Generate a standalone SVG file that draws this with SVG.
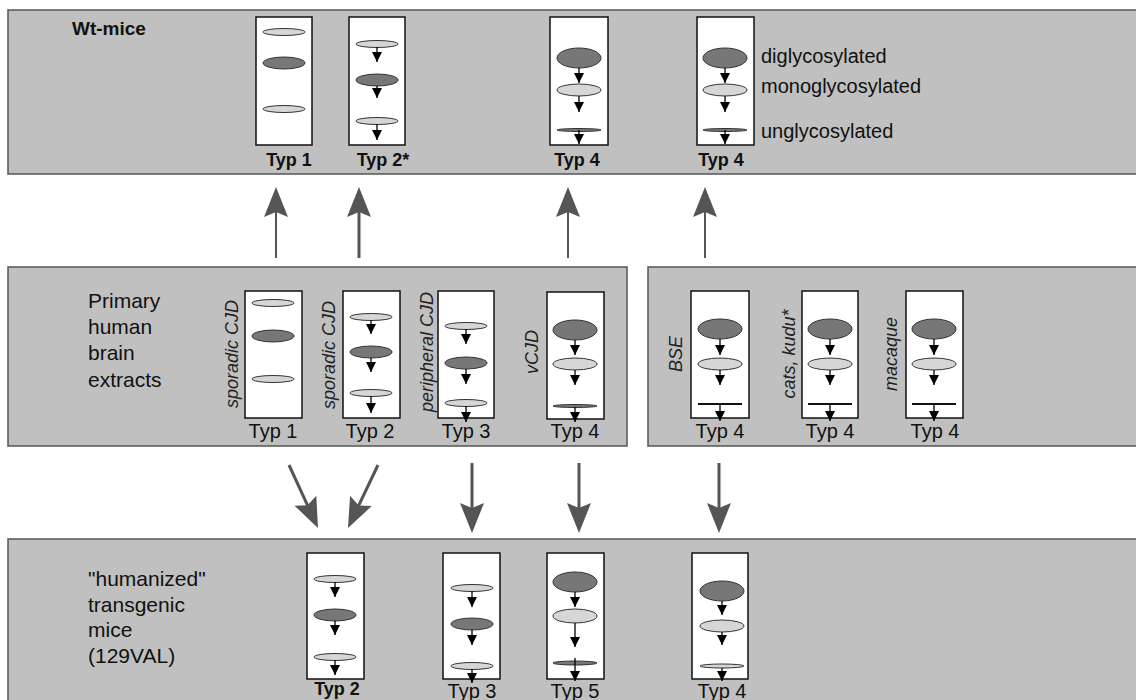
<svg xmlns="http://www.w3.org/2000/svg" width="1136" height="700" viewBox="0 0 1136 700">
<style>
.panel{fill:#c0c0c0;stroke:#555;stroke-width:1.5}
.lane{fill:#fff;stroke:#111;stroke-width:1.5}
.lt{fill:#d6d6d6;stroke:#333;stroke-width:1}
.dk{fill:#777;stroke:#333;stroke-width:1}
.sa{stroke:#000;stroke-width:1.3;fill:none;marker-end:url(#sh)}
.ba{stroke:#555;fill:none;marker-end:url(#bh)}
.t{font-family:"Liberation Sans",Arial,sans-serif;fill:#111}
.tb{font-family:"Liberation Sans",Arial,sans-serif;font-weight:bold;font-size:18px;fill:#111}
.ty{font-size:20px;text-anchor:middle}
.rot{font-family:"Liberation Sans",Arial,sans-serif;font-style:italic;font-size:18px;text-anchor:middle;fill:#222}
</style>
<defs>
<marker id="sh" markerUnits="userSpaceOnUse" markerWidth="12" markerHeight="12" refX="10" refY="5" orient="auto" overflow="visible">
<path d="M0,0 L10,5 L0,10 z" fill="#000"/>
</marker>
<marker id="bh" markerUnits="userSpaceOnUse" markerWidth="32" markerHeight="26" refX="10" refY="12" orient="auto" overflow="visible">
<path d="M0,0 L30,12 L0,24 L5,12 z" fill="#555"/>
</marker>
</defs>
<rect width="1136" height="700" fill="#fff"/>

<!-- panels -->
<g id="panel-wt">
<rect class="panel" x="8" y="10" width="1140" height="164"/>
<text class="tb" x="72" y="35" style="font-size:19px">Wt-mice</text>
<text class="t" x="761" y="63" font-size="20">diglycosylated</text>
<text class="t" x="761" y="93" font-size="20">monoglycosylated</text>
<text class="t" x="761" y="138" font-size="20">unglycosylated</text>
</g>
<g id="panel-human">
<rect class="panel" x="8" y="267" width="619" height="179"/>
<text class="t" font-size="21"><tspan x="88" y="308">Primary</tspan><tspan x="88" y="334">human</tspan><tspan x="88" y="360">brain</tspan><tspan x="88" y="387">extracts</tspan></text>
</g>
<g id="panel-animal">
<rect class="panel" x="648" y="267" width="500" height="179"/>
</g>
<g id="panel-tg">
<rect class="panel" x="8" y="539" width="1140" height="170"/>
<text class="t" font-size="21"><tspan x="88" y="586">"humanized"</tspan><tspan x="88" y="612">transgenic</tspan><tspan x="88" y="637">mice</tspan><tspan x="88" y="663">(129VAL)</tspan></text>
</g>

<!-- top lanes -->
<g id="wt-typ1">
<rect class="lane" x="256" y="17" width="56" height="128"/>
<ellipse class="lt" cx="284" cy="32" rx="21" ry="3.5"/>
<ellipse class="dk" cx="284" cy="63" rx="21" ry="6"/>
<ellipse class="lt" cx="284" cy="109" rx="21" ry="3.5"/>
<text class="tb" x="289" y="166" text-anchor="middle">Typ 1</text>
</g>
<g id="wt-typ2">
<rect class="lane" x="349" y="17" width="56" height="128"/>
<ellipse class="lt" cx="377" cy="44" rx="21" ry="3.5"/>
<line class="sa" x1="377" y1="47" x2="377" y2="62"/>
<ellipse class="dk" cx="377" cy="80" rx="21" ry="6"/>
<line class="sa" x1="377" y1="86" x2="377" y2="98"/>
<ellipse class="lt" cx="377" cy="121" rx="21" ry="3.5"/>
<line class="sa" x1="377" y1="124" x2="377" y2="140"/>
<text class="tb" x="383" y="166" text-anchor="middle">Typ 2*</text>
</g>
<g id="wt-typ4a">
<rect class="lane" x="550" y="17" width="58" height="128"/>
<ellipse class="dk" cx="579" cy="58" rx="22" ry="10"/>
<line class="sa" x1="579" y1="68" x2="579" y2="83"/>
<ellipse class="lt" cx="579" cy="90" rx="22" ry="6"/>
<line class="sa" x1="579" y1="96" x2="579" y2="112"/>
<ellipse class="dk" cx="579" cy="130" rx="22" ry="1.5"/>
<line class="sa" x1="579" y1="130" x2="579" y2="144"/>
<text class="tb" x="577" y="166" text-anchor="middle">Typ 4</text>
</g>
<g id="wt-typ4b">
<rect class="lane" x="697" y="17" width="57" height="128"/>
<ellipse class="dk" cx="725" cy="58" rx="22" ry="10"/>
<line class="sa" x1="725" y1="68" x2="725" y2="83"/>
<ellipse class="lt" cx="725" cy="90" rx="22" ry="6"/>
<line class="sa" x1="725" y1="96" x2="725" y2="112"/>
<ellipse class="dk" cx="725" cy="130" rx="22" ry="1.5"/>
<line class="sa" x1="725" y1="130" x2="725" y2="144"/>
<text class="tb" x="721" y="166" text-anchor="middle">Typ 4</text>
</g>

<!-- middle lanes -->
<g id="h-typ1">
<rect class="lane" x="245" y="291" width="57" height="127"/>
<ellipse class="lt" cx="273" cy="303" rx="21" ry="3.5"/>
<ellipse class="dk" cx="273" cy="336" rx="21" ry="6"/>
<ellipse class="lt" cx="273" cy="379" rx="21" ry="3.5"/>
<text class="rot" transform="translate(238,354) rotate(-90)">sporadic CJD</text>
<text class="t ty" x="273" y="438">Typ 1</text>
</g>
<g id="h-typ2">
<rect class="lane" x="343" y="291" width="57" height="127"/>
<ellipse class="lt" cx="371" cy="317" rx="21" ry="3.5"/>
<line class="sa" x1="371" y1="320" x2="371" y2="334"/>
<ellipse class="dk" cx="371" cy="352" rx="21" ry="6"/>
<line class="sa" x1="371" y1="358" x2="371" y2="372"/>
<ellipse class="lt" cx="371" cy="393" rx="21" ry="3.5"/>
<line class="sa" x1="371" y1="396" x2="371" y2="413"/>
<text class="rot" transform="translate(335,355) rotate(-90)">sporadic CJD</text>
<text class="t ty" x="370" y="438">Typ 2</text>
</g>
<g id="h-typ3">
<rect class="lane" x="438" y="291" width="56" height="127"/>
<ellipse class="lt" cx="466" cy="326" rx="21" ry="3.5"/>
<line class="sa" x1="466" y1="329" x2="466" y2="344"/>
<ellipse class="dk" cx="466" cy="363" rx="21" ry="6"/>
<line class="sa" x1="466" y1="369" x2="466" y2="384"/>
<ellipse class="lt" cx="466" cy="403" rx="21" ry="3.5"/>
<line class="sa" x1="466" y1="406" x2="466" y2="422"/>
<text class="rot" transform="translate(433,352) rotate(-90)">peripheral CJD</text>
<text class="t ty" x="466" y="438">Typ 3</text>
</g>
<g id="h-typ4">
<rect class="lane" x="547" y="292" width="57" height="127"/>
<ellipse class="dk" cx="575" cy="330" rx="22" ry="10"/>
<line class="sa" x1="575" y1="340" x2="575" y2="355"/>
<ellipse class="lt" cx="575" cy="364" rx="22" ry="6"/>
<line class="sa" x1="575" y1="370" x2="575" y2="385"/>
<ellipse class="dk" cx="575" cy="406" rx="22" ry="1.5"/>
<line class="sa" x1="575" y1="407" x2="575" y2="422"/>
<text class="rot" transform="translate(538,352) rotate(-90)">vCJD</text>
<text class="t ty" x="575" y="438">Typ 4</text>
</g>
<g id="a-bse">
<rect class="lane" x="691" y="291" width="58" height="127"/>
<ellipse class="dk" cx="720" cy="329" rx="22" ry="10"/>
<line class="sa" x1="720" y1="339" x2="720" y2="355"/>
<ellipse class="lt" cx="720" cy="364" rx="22" ry="6"/>
<line class="sa" x1="720" y1="370" x2="720" y2="385"/>
<line x1="698" y1="404" x2="742" y2="404" stroke="#111" stroke-width="2"/>
<line class="sa" x1="720" y1="405" x2="720" y2="421"/>
<text class="rot" transform="translate(682,354) rotate(-90)">BSE</text>
<text class="t ty" x="720" y="438">Typ 4</text>
</g>
<g id="a-cats">
<rect class="lane" x="802" y="291" width="56" height="127"/>
<ellipse class="dk" cx="830" cy="329" rx="22" ry="10"/>
<line class="sa" x1="830" y1="339" x2="830" y2="355"/>
<ellipse class="lt" cx="830" cy="364" rx="22" ry="6"/>
<line class="sa" x1="830" y1="370" x2="830" y2="385"/>
<line x1="808" y1="404" x2="852" y2="404" stroke="#111" stroke-width="2"/>
<line class="sa" x1="830" y1="405" x2="830" y2="421"/>
<text class="rot" transform="translate(795,354) rotate(-90)">cats, kudu*</text>
<text class="t ty" x="830" y="438">Typ 4</text>
</g>
<g id="a-macaque">
<rect class="lane" x="906" y="291" width="57" height="127"/>
<ellipse class="dk" cx="934" cy="329" rx="22" ry="10"/>
<line class="sa" x1="934" y1="339" x2="934" y2="355"/>
<ellipse class="lt" cx="934" cy="364" rx="22" ry="6"/>
<line class="sa" x1="934" y1="370" x2="934" y2="385"/>
<line x1="912" y1="404" x2="956" y2="404" stroke="#111" stroke-width="2"/>
<line class="sa" x1="934" y1="405" x2="934" y2="421"/>
<text class="rot" transform="translate(897,354) rotate(-90)">macaque</text>
<text class="t ty" x="935" y="438">Typ 4</text>
</g>

<!-- bottom lanes -->
<g id="tg-typ2">
<rect class="lane" x="307" y="553" width="57" height="126"/>
<ellipse class="lt" cx="335" cy="579" rx="21" ry="3.5"/>
<line class="sa" x1="335" y1="582" x2="335" y2="597"/>
<ellipse class="dk" cx="335" cy="615" rx="21" ry="6"/>
<line class="sa" x1="335" y1="621" x2="335" y2="635"/>
<ellipse class="lt" cx="335" cy="657" rx="21" ry="3.5"/>
<line class="sa" x1="335" y1="660" x2="335" y2="675"/>
<text class="tb" x="337" y="695" text-anchor="middle">Typ 2</text>
</g>
<g id="tg-typ3">
<rect class="lane" x="443" y="553" width="57" height="126"/>
<ellipse class="lt" cx="472" cy="588" rx="21" ry="3.5"/>
<line class="sa" x1="472" y1="591" x2="472" y2="607"/>
<ellipse class="dk" cx="472" cy="624" rx="21" ry="6"/>
<line class="sa" x1="472" y1="630" x2="472" y2="645"/>
<ellipse class="lt" cx="472" cy="666" rx="21" ry="3.5"/>
<line class="sa" x1="472" y1="669" x2="472" y2="683"/>
<text class="t ty" x="472" y="698">Typ 3</text>
</g>
<g id="tg-typ5">
<rect class="lane" x="547" y="553" width="57" height="126"/>
<ellipse class="dk" cx="575" cy="582" rx="22" ry="10"/>
<line class="sa" x1="575" y1="592" x2="575" y2="607"/>
<ellipse class="lt" cx="575" cy="616" rx="22" ry="7"/>
<line class="sa" x1="575" y1="623" x2="575" y2="647"/>
<ellipse class="dk" cx="575" cy="663" rx="22" ry="2"/>
<line class="sa" x1="575" y1="658" x2="575" y2="681"/>
<text class="t ty" x="575" y="698">Typ 5</text>
</g>
<g id="tg-typ4">
<rect class="lane" x="692" y="553" width="56" height="126"/>
<ellipse class="dk" cx="722" cy="591" rx="22" ry="10"/>
<line class="sa" x1="722" y1="601" x2="722" y2="615"/>
<ellipse class="lt" cx="722" cy="626" rx="22" ry="6"/>
<line class="sa" x1="722" y1="632" x2="722" y2="645"/>
<ellipse class="lt" cx="722" cy="666" rx="22" ry="2"/>
<line class="sa" x1="722" y1="668" x2="722" y2="681"/>
<text class="t ty" x="722" y="698">Typ 4</text>
</g>

<!-- connectors -->
<g id="connectors">
<line class="ba" stroke-width="2" x1="276" y1="258" x2="276" y2="207"/>
<line class="ba" stroke-width="3" x1="359" y1="258" x2="359" y2="207"/>
<line class="ba" stroke-width="2" x1="568" y1="258" x2="568" y2="207"/>
<line class="ba" stroke-width="2" x1="705" y1="258" x2="705" y2="207"/>
<line class="ba" stroke-width="3" x1="289" y1="465" x2="309.6" y2="509.8"/>
<line class="ba" stroke-width="3" x1="378" y1="465" x2="356.6" y2="509.9"/>
<line class="ba" stroke-width="3" x1="472" y1="463" x2="472" y2="513"/>
<line class="ba" stroke-width="3" x1="579" y1="463" x2="579" y2="513"/>
<line class="ba" stroke-width="3" x1="719" y1="463" x2="719" y2="513"/>
</g>
</svg>
